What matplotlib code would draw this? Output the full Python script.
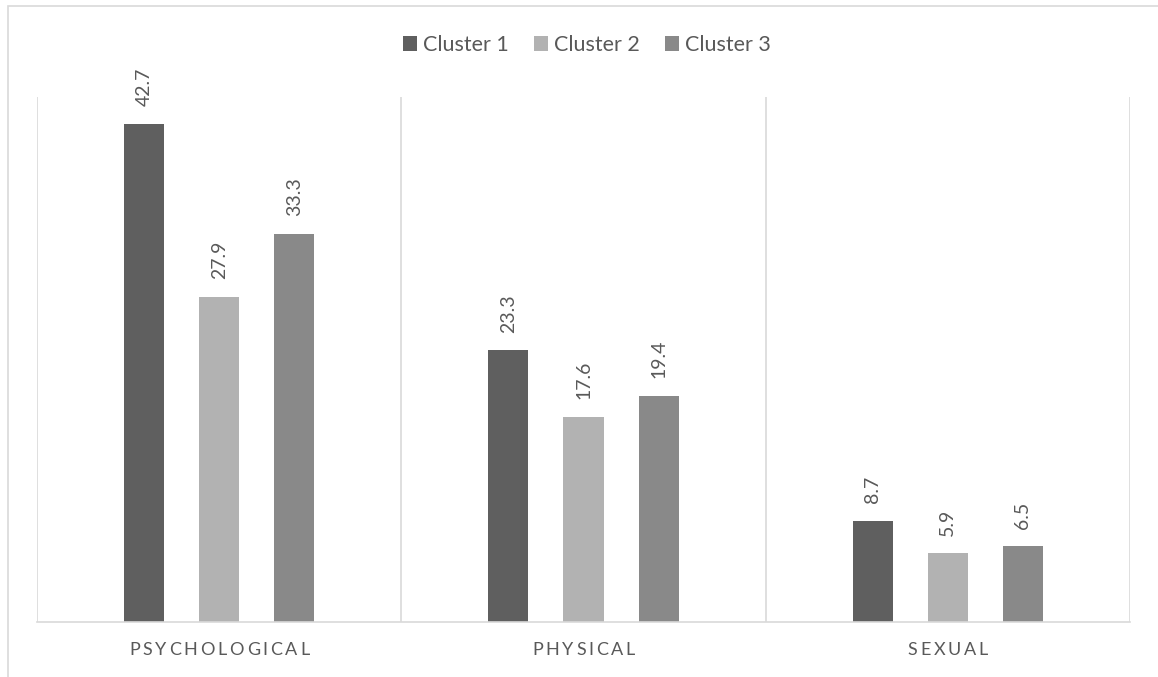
import matplotlib.pyplot as plt
import numpy as np
from matplotlib.patches import Rectangle

categories = ["PSYCHOLOGICAL", "PHYSICAL", "SEXUAL"]
series_names = ["Cluster 1", "Cluster 2", "Cluster 3"]
cluster1 = [42.7, 23.3, 8.7]
cluster2 = [27.9, 17.6, 5.9]
cluster3 = [33.3, 19.4, 6.5]

colors = ["#5f5f5f", "#b2b2b2", "#898989"]
text_color = "#595959"
grid_color = "#d9d9d9"

plt.rcParams["font.family"] = ["Lato", "DejaVu Sans"]

fig = plt.figure(figsize=(11.58, 6.77), dpi=100)
ax = fig.add_axes([37 / 1158, 1 - 622 / 677, (1130 - 37) / 1158, (622 - 97) / 677])

# outer chart border
fig.patches.append(Rectangle((8 / 1158, -0.1), 1.2, 1 - 6 / 677 + 0.1,
                             transform=fig.transFigure, fill=False,
                             edgecolor=grid_color, linewidth=1.2))

x = np.arange(len(categories))
width = 0.11
offset = 0.206
series = [cluster1, cluster2, cluster3]
for i, (vals, name, c) in enumerate(zip(series, series_names, colors)):
    bars = ax.bar(x + (i - 1) * offset, vals, width, color=c, label=name)
    for b, v in zip(bars, vals):
        ax.annotate(f"{v:.1f}", (b.get_x() + b.get_width() / 2, v),
                    xytext=(0, 12.5), textcoords="offset points",
                    rotation=90, ha="center", va="bottom",
                    fontsize=14, color=text_color)

ax.set_xlim(-0.5, len(categories) - 0.5)
ax.set_ylim(0, 45)
ax.set_yticks([])
ax.set_xticks([])
for s in ["top", "right", "left"]:
    ax.spines[s].set_visible(False)
ax.spines["bottom"].set_color(grid_color)
ax.spines["bottom"].set_linewidth(1.2)

# category separators
for b in np.arange(len(categories) + 1) - 0.5:
    ax.axvline(b, color=grid_color, linewidth=1.2, zorder=0)

# letter-spaced category labels
renderer = fig.canvas.get_renderer()
tracking = 2.75
fs = 13
for xi, label in zip(x, categories):
    widths = []
    for ch in label:
        t = ax.text(0, 0, ch, fontsize=fs)
        widths.append(t.get_window_extent(renderer).width)
        t.remove()
    total = sum(widths) + tracking * (len(label) - 1)
    pos = -total / 2
    for ch, w in zip(label, widths):
        ax.annotate(ch, (xi, 0), xycoords="data",
                    xytext=(pos * 72 / fig.dpi, -28 * 72 / fig.dpi),
                    textcoords="offset points", ha="left", va="center",
                    fontsize=fs, color=text_color, annotation_clip=False)
        pos += w + tracking

ax.legend(loc="center", bbox_to_anchor=(587 / 1158, 1 - 45 / 677),
          bbox_transform=fig.transFigure, ncol=3, frameon=False,
          fontsize=15.5, labelcolor=text_color, handlelength=0.65,
          handleheight=0.65, handletextpad=0.3, columnspacing=1.15,
          borderpad=0, borderaxespad=0)

fig.savefig("out.png", dpi=100)
